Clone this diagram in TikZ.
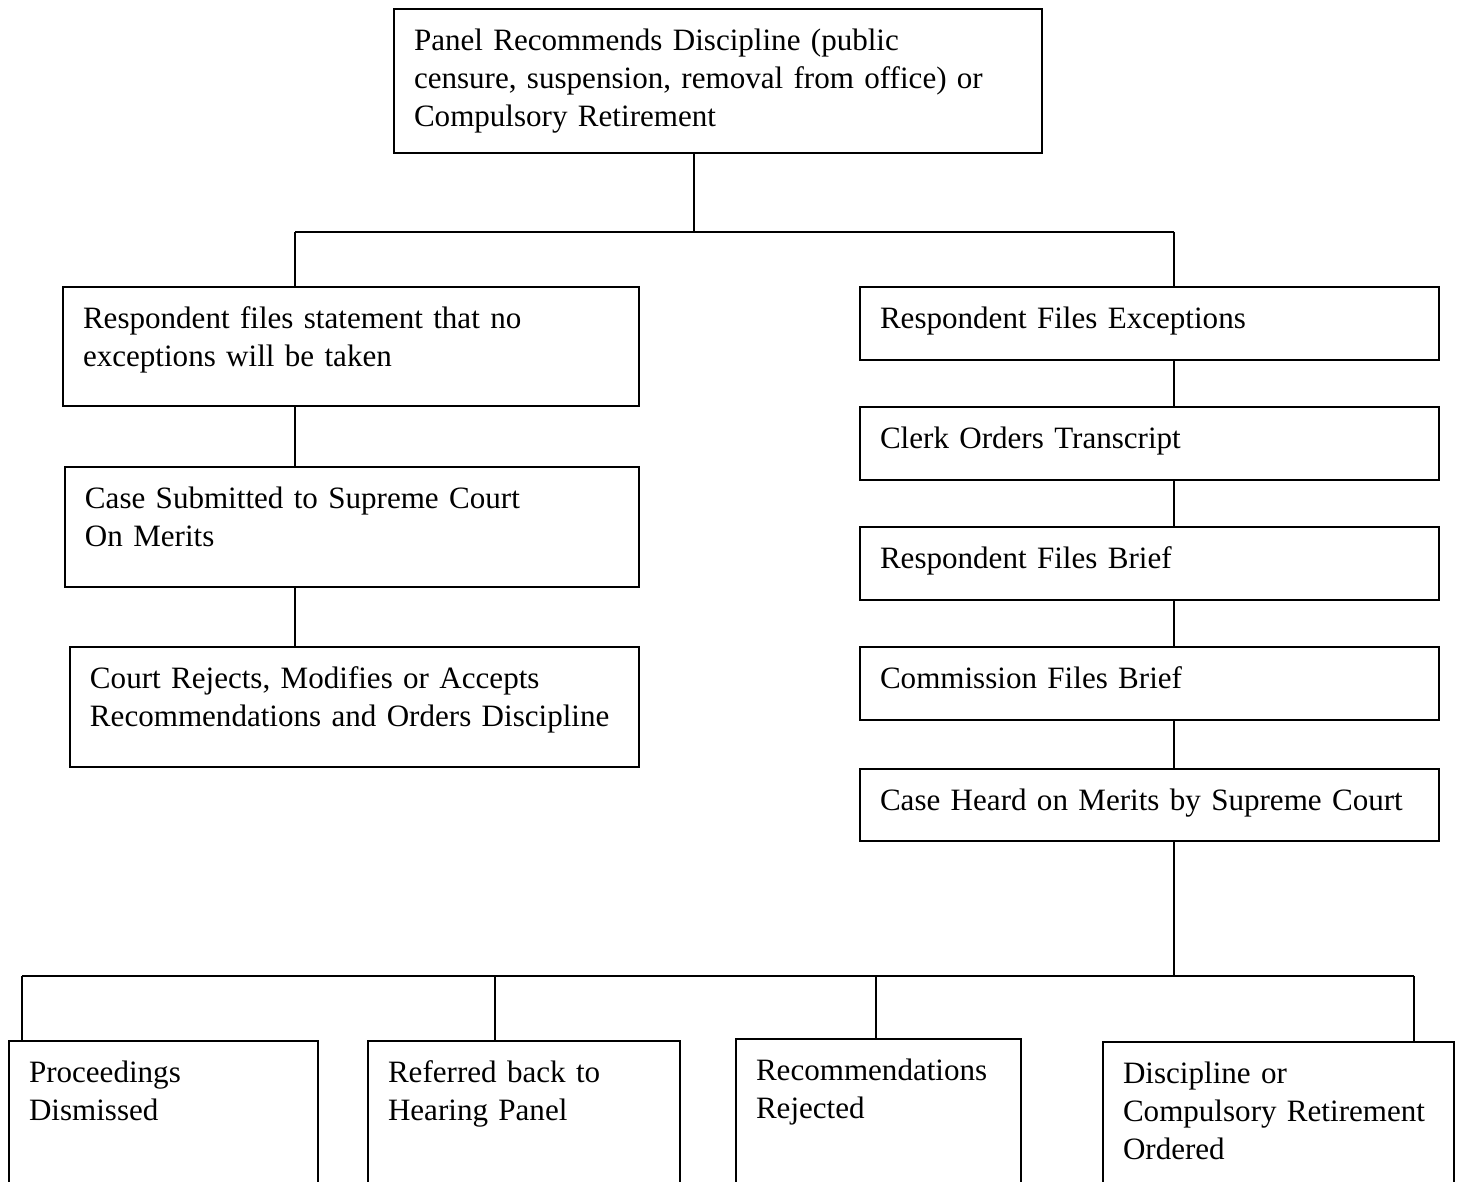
\documentclass[tikz,border=0pt]{standalone}
\usepackage{fontspec}
\setmainfont{Liberation Serif}
\hyphenpenalty=10000
\begin{document}
\begin{tikzpicture}[x=0.375pt, y=-0.375pt, line width=0.75pt,
  box/.style 2 args={draw, anchor=north west, align=left, inner sep=7.5pt,
    text width={#1*0.375pt-15pt}, text height=7.9pt,
    text depth={#2*0.375pt-22.9pt},
    font=\fontsize{11.65}{14.25}\selectfont}]
%%%%% Frame %%%%%
\useasboundingbox (0,0) rectangle (1458,1182);
\clip (0,0) rectangle (1458,1182);
%%%%% Boxes %%%%%
\node[box={648}{144}] (panel) at (393,8) {Panel Recommends Discipline (public\\ censure, suspension, removal from office) or\\ Compulsory Retirement};
\node[box={576}{119}] (noexc) at (62,286) {Respondent files statement that no\\ exceptions will be taken};
\node[box={574}{120}] (submit) at (64,466) {Case Submitted to Supreme Court\\ On Merits};
\node[box={569}{120}] (decide) at (69,646) {Court Rejects, Modifies or Accepts\\ Recommendations and Orders Discipline};
\node[box={579}{73}] (exc) at (859,286) {Respondent Files Exceptions};
\node[box={579}{73}] (clerk) at (859,406) {Clerk Orders Transcript};
\node[box={579}{73}] (rbrief) at (859,526) {Respondent Files Brief};
\node[box={579}{73}] (cbrief) at (859,646) {Commission Files Brief};
\node[box={579}{72}] (heard) at (859,768) {Case Heard on Merits by Supreme Court};
\node[box={309}{190}] (dismiss) at (8,1040) {Proceedings\\ Dismissed};
\node[box={312}{190}] (refer) at (367,1040) {Referred back to\\ Hearing Panel};
\node[box={285}{190}] (reject) at (735,1038) {Recommendations\\ Rejected};
\node[box={351}{190}] (order) at (1102,1041) {Discipline or\\ Compulsory Retirement\\ Ordered};
%%%%% Connectors %%%%%
\coordinate (split) at (694,232);
\coordinate (left) at (295,232);
\coordinate (right) at (1174,232);
\draw (panel.south -| split) -- (split);
\draw (left) -- (right);
\draw (left) -- (left |- noexc.north);
\draw (right) -- (right |- exc.north);
\foreach \a/\b in {noexc/submit, submit/decide}{
\draw (left |- \a.south) -- (left |- \b.north);
}
\foreach \a/\b in {exc/clerk, clerk/rbrief, rbrief/cbrief, cbrief/heard}{
\draw (right |- \a.south) -- (right |- \b.north);
}
\coordinate (fork) at (1174,976);
\coordinate (forkl) at (22,976);
\coordinate (forkr) at (1414,976);
\draw (heard.south -| fork) -- (fork);
\draw (forkl) -- (forkr);
\foreach \x/\n in {22/dismiss, 495/refer, 876/reject, 1414/order}{
\draw (\x,976) coordinate (drop) -- (drop |- \n.north);
}
\end{tikzpicture}
\end{document}
